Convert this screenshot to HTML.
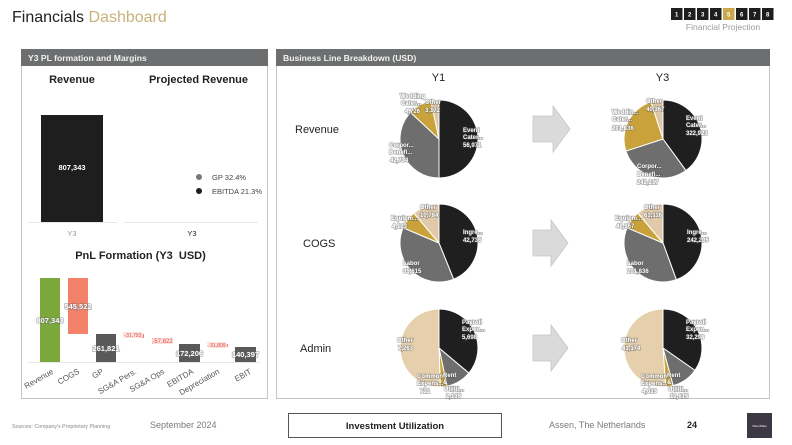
<!DOCTYPE html>
<html><head><meta charset="utf-8"><style>
html,body{margin:0;padding:0;background:#fff;}
svg{display:block;font-family:"Liberation Sans",sans-serif;}
.pl{font-weight:bold;font-size:6px;fill:#fff;stroke:#555;stroke-width:1.4px;paint-order:stroke;stroke-opacity:.45}
</style></head><body>
<svg width="792" height="445" viewBox="0 0 792 445" xmlns="http://www.w3.org/2000/svg">
<rect width="792" height="445" fill="#fff"/>
<!-- Title -->
<text x="12" y="22" font-size="16" fill="#222">Financials <tspan fill="#c8b27a">Dashboard</tspan></text>
<!-- page boxes -->
<g font-size="6" font-weight="bold" fill="#fff" text-anchor="middle">
<rect x="671" y="8" width="11.5" height="12" fill="#1e1e1e"/><text x="676.7" y="16.5">1</text>
<rect x="684" y="8" width="11.5" height="12" fill="#1e1e1e"/><text x="689.7" y="16.5">2</text>
<rect x="697" y="8" width="11.5" height="12" fill="#1e1e1e"/><text x="702.7" y="16.5">3</text>
<rect x="710" y="8" width="11.5" height="12" fill="#1e1e1e"/><text x="715.7" y="16.5">4</text>
<rect x="723" y="8" width="11.5" height="12" fill="#c9a84c"/><text x="728.7" y="16.5">5</text>
<rect x="736" y="8" width="11.5" height="12" fill="#1e1e1e"/><text x="741.7" y="16.5">6</text>
<rect x="749" y="8" width="11.5" height="12" fill="#1e1e1e"/><text x="754.7" y="16.5">7</text>
<rect x="762" y="8" width="11.5" height="12" fill="#1e1e1e"/><text x="767.7" y="16.5">8</text>
</g>
<text x="723" y="30" font-size="8.5" fill="#9a9a9a" text-anchor="middle">Financial Projection</text>

<!-- Panels -->
<rect x="21.5" y="49.5" width="246" height="349" fill="#fff" stroke="#c4c4c4"/>
<rect x="276.5" y="49.5" width="493" height="349" fill="#fff" stroke="#c4c4c4"/>
<rect x="21" y="49" width="247" height="17" fill="#6c6e6f"/>
<rect x="276" y="49" width="494" height="17" fill="#6c6e6f"/>
<text x="28" y="61" font-size="8.6" font-weight="bold" fill="#f2f2f2">Y3 PL formation and Margins</text>
<text x="283" y="61" font-size="8.6" font-weight="bold" fill="#f2f2f2">Business Line Breakdown (USD)</text>

<!-- Left top -->
<text x="72" y="83" font-size="11" font-weight="bold" fill="#222" text-anchor="middle">Revenue</text>
<text x="198.5" y="83" font-size="11" font-weight="bold" fill="#222" text-anchor="middle">Projected Revenue</text>
<rect x="41" y="115" width="62" height="107" fill="#1e1e1e"/>
<text x="72" y="170" font-size="7.5" font-weight="bold" fill="#fff" text-anchor="middle">807,343</text>
<line x1="28" y1="222.5" x2="117" y2="222.5" stroke="#e6e6e6"/>
<line x1="124" y1="222.5" x2="258" y2="222.5" stroke="#e6e6e6"/>
<text x="72" y="236" font-size="7.5" fill="#9a9a9a" text-anchor="middle">Y3</text>
<text x="192" y="236" font-size="7.5" fill="#222" text-anchor="middle">Y3</text>
<circle cx="199" cy="177" r="3" fill="#777"/>
<text x="212" y="180" font-size="7.5" fill="#444">GP 32.4%</text>
<circle cx="199" cy="191" r="3" fill="#1e1e1e"/>
<text x="212" y="194" font-size="7.5" fill="#444">EBITDA 21.3%</text>

<!-- PnL -->
<text x="140.5" y="259" font-size="11" font-weight="bold" fill="#222" text-anchor="middle">PnL Formation (Y3 &#160;USD)</text>
<line x1="28" y1="362.5" x2="260" y2="362.5" stroke="#e6e6e6"/>
<rect x="40" y="278" width="20" height="84" fill="#7aa83b"/>
<rect x="68" y="278" width="20" height="56" fill="#f4826a"/>
<rect x="96" y="334" width="20" height="28" fill="#595959"/>
<rect x="124" y="334" width="20" height="4" fill="#f4826a"/>
<rect x="152" y="338" width="20" height="6" fill="#f4826a"/>
<rect x="179" y="344" width="21" height="18" fill="#595959"/>
<rect x="207" y="344" width="21" height="3" fill="#f4826a"/>
<rect x="235" y="347" width="21" height="15" fill="#595959"/>
<g font-size="7.5" font-weight="bold" fill="#fff" text-anchor="middle" stroke="#666" stroke-width="1.5" paint-order="stroke" stroke-opacity=".5">
<text x="50" y="323">807,343</text>
<text x="78" y="309">545,522</text>
<text x="106" y="351">261,821</text>
<text x="189.5" y="356">172,206</text>
<text x="245.5" y="357">140,397</text>
</g>
<rect x="123" y="332" width="20" height="6" rx="2" fill="#fbe3e0"/>
<rect x="152" y="338" width="21" height="6" rx="2" fill="#fbe3e0"/>
<rect x="207" y="342" width="20" height="6" rx="2" fill="#fbe3e0"/>
<g font-size="5" fill="#e04a3a" text-anchor="middle">
<text x="133" y="337">-31,793</text>
<text x="162.5" y="343" font-size="6">-57,822</text>
<text x="217" y="347">-31,809</text>
</g>
<g font-size="8" fill="#555" text-anchor="end">
<text transform="translate(54,373) rotate(-30)">Revenue</text>
<text transform="translate(80,373) rotate(-30)">COGS</text>
<text transform="translate(104,373) rotate(-30)">GP</text>
<text transform="translate(137,373) rotate(-30)">SG&amp;A Pers.</text>
<text transform="translate(165,373) rotate(-30)">SG&amp;A Ops</text>
<text transform="translate(194,373) rotate(-30)">EBITDA</text>
<text transform="translate(220,373) rotate(-30)">Depreciation</text>
<text transform="translate(252,373) rotate(-30)">EBIT</text>
</g>

<!-- Right panel -->
<text x="438.5" y="81" font-size="11" fill="#222" text-anchor="middle">Y1</text>
<text x="662.5" y="81" font-size="11" fill="#222" text-anchor="middle">Y3</text>
<text x="295" y="133" font-size="11" fill="#222">Revenue</text>
<text x="303" y="247" font-size="11" fill="#222">COGS</text>
<text x="300" y="352" font-size="11" fill="#222">Admin</text>

<!-- arrows -->
<g fill="#dadada" stroke="#c6c6c6" stroke-width="0.8">
<polygon points="533,116 553,116 553,106 570,129 553,152 553,142 533,142"/>
<polygon points="533,230 551,230 551,220 568,243 551,266 551,256 533,256"/>
<polygon points="533,335 551,335 551,325 568,348 551,371 551,361 533,361"/>
</g>

<!-- Pies -->
<g stroke="#fff" stroke-width="1">
<g transform="translate(439,139)">
<path d="M0 0L0 -39A39 39 0 0 1 0 39Z" fill="#1f1f1f"/>
<path d="M0 0L0 39A39 39 0 0 1 -28.52 -26.6Z" fill="#6e6e6e"/>
<path d="M0 0L-28.52 -26.6A39 39 0 0 1 -8.11 -38.15Z" fill="#c9a23c"/>
<path d="M0 0L-8.11 -38.15A39 39 0 0 1 0 -39Z" fill="#dcc8a8"/>
</g>
<g transform="translate(663,139)">
<path d="M0 0L0 -39A39 39 0 0 1 22.92 31.55Z" fill="#1f1f1f"/>
<path d="M0 0L22.92 31.55A39 39 0 0 1 -37.09 12.05Z" fill="#6e6e6e"/>
<path d="M0 0L-37.09 12.05A39 39 0 0 1 -12.05 -37.09Z" fill="#c9a23c"/>
<path d="M0 0L-12.05 -37.09A39 39 0 0 1 0 -39Z" fill="#dcc8a8"/>
</g>
<g transform="translate(439,243)">
<path d="M0 0L0 -39A39 39 0 0 1 14.61 36.16Z" fill="#1f1f1f"/>
<path d="M0 0L14.61 36.16A39 39 0 0 1 -35.9 -15.24Z" fill="#6e6e6e"/>
<path d="M0 0L-35.9 -15.24A39 39 0 0 1 -25.07 -29.87Z" fill="#c9a23c"/>
<path d="M0 0L-25.07 -29.87A39 39 0 0 1 0 -39Z" fill="#e0c9a8"/>
</g>
<g transform="translate(663,243)">
<path d="M0 0L0 -39A39 39 0 0 1 13.34 36.65Z" fill="#1f1f1f"/>
<path d="M0 0L13.34 36.65A39 39 0 0 1 -35.9 -15.24Z" fill="#6e6e6e"/>
<path d="M0 0L-35.9 -15.24A39 39 0 0 1 -25.07 -29.87Z" fill="#c9a23c"/>
<path d="M0 0L-25.07 -29.87A39 39 0 0 1 0 -39Z" fill="#e0c9a8"/>
</g>
<g transform="translate(439,348)">
<path d="M0 0L0 -39A39 39 0 0 1 29.87 25.07Z" fill="#1f1f1f"/>
<path d="M0 0L29.87 25.07A39 39 0 0 1 8.11 38.15Z" fill="#6e6e6e"/>
<path d="M0 0L8.11 38.15A39 39 0 0 1 1.36 38.98Z" fill="#c9a23c"/>
<path d="M0 0L1.36 38.98A39 39 0 1 1 0 -39Z" fill="#e6cfad"/>
</g>
<g transform="translate(663,348)">
<path d="M0 0L0 -39A39 39 0 0 1 31.95 22.37Z" fill="#1f1f1f"/>
<path d="M0 0L31.95 22.37A39 39 0 0 1 10.09 37.67Z" fill="#6e6e6e"/>
<path d="M0 0L10.09 37.67A39 39 0 0 1 2.72 38.9Z" fill="#c9a23c"/>
<path d="M0 0L2.72 38.9A39 39 0 1 1 0 -39Z" fill="#e6cfad"/>
</g>
</g>

<!-- Pie labels -->
<g class="pl">
<text x="463" y="132">Event</text><text x="463" y="139">Cater...</text><text x="463" y="147">56,971</text>
<text x="389" y="147">Corpor...</text><text x="389" y="154">Benefi...</text><text x="390" y="162">42,734</text>
<text x="400" y="98">Wedding</text><text x="401" y="105">Cater...</text><text x="405" y="113">4,726</text>
<text x="425" y="104">Other</text><text x="425" y="112">3,172</text>

<text x="686" y="120">Event</text><text x="686" y="127">Cater...</text><text x="686" y="135">322,923</text>
<text x="612" y="114">Weddin...</text><text x="612" y="121">Cater...</text><text x="612" y="130">201,836</text>
<text x="646" y="103">Other</text><text x="646" y="111">40,367</text>
<text x="637" y="168">Corpor...</text><text x="637" y="176">Benefi...</text><text x="637" y="184">242,217</text>

<text x="463" y="234">Ingre...</text><text x="463" y="242">42,735</text>
<text x="403" y="265">Labor</text><text x="403" y="273">35,615</text>
<text x="420" y="209">Other</text><text x="420" y="217">10,784</text>
<text x="391" y="220">Equipm...</text><text x="392" y="228">4,123</text>

<text x="687" y="234">Ingre...</text><text x="687" y="242">242,205</text>
<text x="627" y="265">Labor</text><text x="627" y="273">201,836</text>
<text x="644" y="209">Other</text><text x="644" y="217">61,116</text>
<text x="615" y="220">Equipm...</text><text x="616" y="228">40,367</text>

<text x="462" y="324">Payroll</text><text x="462" y="331">Expen...</text><text x="462" y="339">5,698</text>
<text x="397" y="342">Other</text><text x="398" y="350">7,263</text>
<text x="417" y="378">Common</text><text x="417" y="385">Expens...</text><text x="420" y="393">712</text>
<text x="443" y="377">Rent</text><text x="443" y="384">&amp;</text><text x="444" y="391">Utiliti...</text><text x="446" y="398">2,135</text>

<text x="686" y="324">Payroll</text><text x="686" y="331">Expen...</text><text x="686" y="339">32,298</text>
<text x="621" y="342">Other</text><text x="622" y="350">41,174</text>
<text x="641" y="378">Common</text><text x="641" y="385">Expens...</text><text x="642" y="393">4,023</text>
<text x="667" y="377">Rent</text><text x="667" y="384">&amp;</text><text x="668" y="391">Utiliti...</text><text x="670" y="398">12,615</text>
</g>

<!-- Footer -->
<text x="12" y="428" font-size="5.3" fill="#888">Sources: Company's Proprietary Planning</text>
<text x="150" y="428" font-size="9" fill="#7a7a7a">September 2024</text>
<rect x="288.5" y="413.5" width="213" height="24" fill="#fff" stroke="#555"/>
<text x="395" y="429" font-size="9.5" font-weight="bold" fill="#222" text-anchor="middle">Investment Utilization</text>
<text x="549" y="428" font-size="9" fill="#7a7a7a">Assen, The Netherlands</text>
<text x="687" y="428" font-size="9" font-weight="bold" fill="#222">24</text>
<rect x="747" y="413" width="25" height="25" fill="#3c3844"/>
<text x="759.5" y="427" font-size="3" fill="#fff" text-anchor="middle">SilverPlate</text>
</svg>
</body></html>
